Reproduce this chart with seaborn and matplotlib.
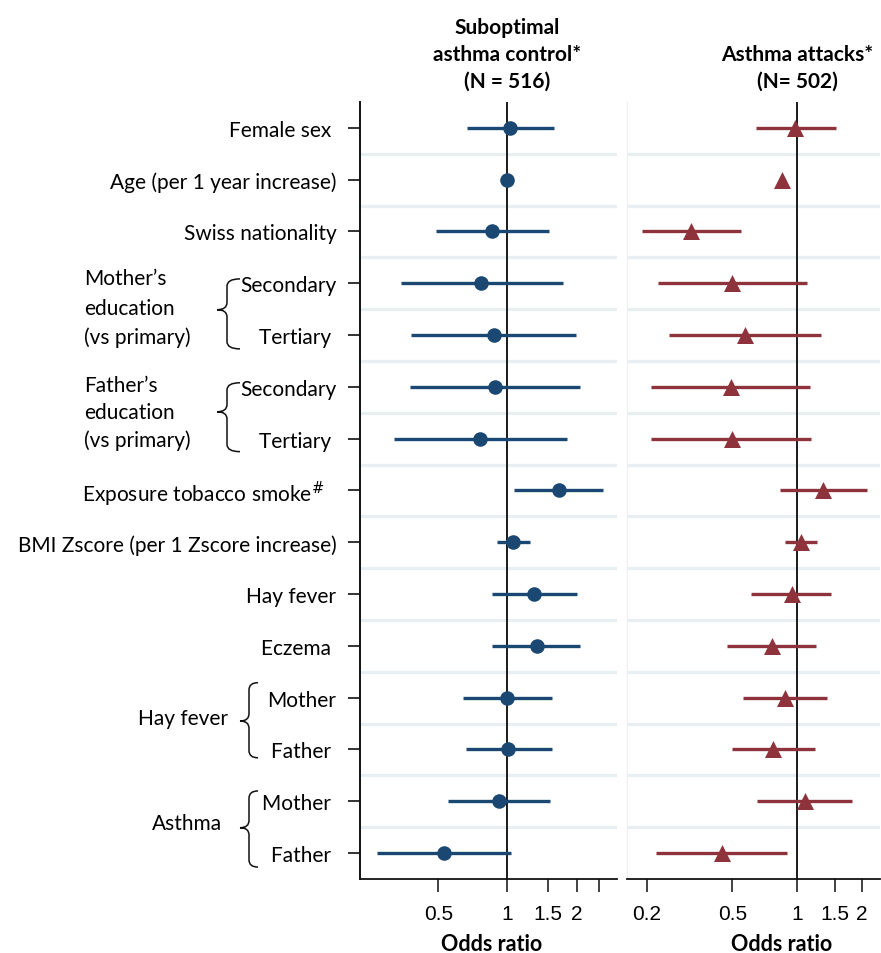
import matplotlib
matplotlib.use("Agg")
import matplotlib.pyplot as plt
import matplotlib.transforms as mtransforms
from matplotlib.path import Path
from matplotlib.patches import PathPatch
from matplotlib.ticker import NullLocator
import pandas as pd
import seaborn as sns

# row labels (top to bottom)
rows = ["Female sex ", "Age (per 1 year increase)", "Swiss nationality", "Secondary", "Tertiary ",
        "Secondary", "Tertiary ", "Exposure tobacco smoke$^{\\#}$   ",
        "BMI Zscore (per 1 Zscore increase)", "Hay fever", "Eczema ",
        "Mother", "Father ", "Mother ", "Father "]

# suboptimal asthma control: odds ratio + 95% CI
control_or = [1.03, 1.00, 0.86, 0.77, 0.87, 0.88, 0.76, 1.67, 1.06, 1.31, 1.34, 1.00, 1.01, 0.92, 0.53]
control_lo = [0.67, 0.97, 0.49, 0.345, 0.38, 0.375, 0.32, 1.07, 0.905, 0.86, 0.86, 0.64, 0.66, 0.55, 0.27]
control_hi = [1.59, 1.03, 1.51, 1.74, 1.98, 2.08, 1.81, 2.62, 1.26, 2.00, 2.08, 1.56, 1.56, 1.54, 1.04]

# asthma attacks: odds ratio + 95% CI
attack_or = [0.98, 0.85, 0.32, 0.50, 0.57, 0.49, 0.495, 1.32, 1.04, 0.94, 0.76, 0.88, 0.77, 1.08, 0.445]
attack_lo = [0.64, 0.83, 0.19, 0.225, 0.253, 0.21, 0.21, 0.83, 0.88, 0.61, 0.47, 0.56, 0.495, 0.65, 0.22]
attack_hi = [1.52, 0.87, 0.55, 1.11, 1.29, 1.15, 1.16, 2.11, 1.24, 1.44, 1.22, 1.38, 1.21, 1.80, 0.90]

left_ticks = [0.5, 1, 1.5, 2, 2.5]
left_ticklabels = ["0.5", "1", "1.5", "2", ""]
right_ticks = [0.2, 0.5, 1, 1.5, 2]
right_ticklabels = ["0.2", "0.5", "1", "1.5", "2"]

BLUE = "#1b4872"
RED = "#8e333c"
GRID = "#e8eff3"

sns.set_style("white")
plt.rcParams["font.family"] = ["Lato", "DejaVu Sans"]
plt.rcParams["text.color"] = "black"
plt.rcParams["xtick.color"] = "black"
plt.rcParams["ytick.color"] = "black"

df = pd.DataFrame({"row": range(len(rows)),
                   "c_or": control_or, "c_lo": control_lo, "c_hi": control_hi,
                   "a_or": attack_or, "a_lo": attack_lo, "a_hi": attack_hi})

W, H = 881, 954
fig = plt.figure(figsize=(W / 100, H / 100), dpi=100)
bot = 1 - 880 / H
hgt = 777 / H
ax1 = fig.add_axes([360 / W, bot, 257 / W, hgt])
ax2 = fig.add_axes([627 / W, bot, 253 / W, hgt])

FS = 15


def panel(ax, col, color, marker, size, xlim, ticks, ticklabels):
    ax.set_xscale("log")
    for k in range(len(rows) - 1):
        ax.axhline(k + 0.5, color=GRID, lw=2.3, zorder=0)
    ax.axvline(1, color="#1a1a1a", lw=1.4, zorder=1)
    ax.hlines(df["row"], df[col + "_lo"], df[col + "_hi"], color=color, lw=2.4, zorder=2)
    sns.scatterplot(data=df, x=col + "_or", y="row", ax=ax, marker=marker, s=size,
                    color=color, edgecolor=color, linewidth=0, zorder=3, legend=False)
    ax.set_xlim(*xlim)
    ax.set_ylim(len(rows) - 0.5, -0.5)
    ax.set_xticks(ticks)
    ax.set_xticklabels(ticklabels, family=["Liberation Sans"], fontsize=15, color="black")
    ax.xaxis.set_minor_locator(NullLocator())
    ax.tick_params(axis="x", length=9, width=1.2, pad=9, color="#222222", bottom=True)
    ax.set_xlabel("")
    ax.set_ylabel("")
    for s in ["top", "right"]:
        ax.spines[s].set_visible(False)
    ax.spines["bottom"].set_color("#111111")
    ax.spines["bottom"].set_linewidth(1.3)


panel(ax1, "c", BLUE, "o", 110, (0.228, 3.0), left_ticks, left_ticklabels)
panel(ax2, "a", RED, "^", 150, (0.162, 2.42), right_ticks, right_ticklabels)

ax1.set_yticks(range(len(rows)))
ax1.set_yticklabels(rows, fontsize=FS, color="black")
ax1.tick_params(axis="y", length=9, width=1.2, pad=8, color="#111111", left=True)
ax1.spines["left"].set_color("#111111")
ax1.spines["left"].set_linewidth(1.4)

ax2.set_yticks([])
ax2.spines["left"].set_color("#eeeeee")

# panel titles
ax1.text(1.0, 1.014, "Suboptimal\nasthma control*\n(N = 516)", transform=ax1.get_xaxis_transform(),
         ha="center", va="bottom", fontsize=15, fontweight="bold", linespacing=1.45)
ax2.text(1.0, 1.014, "Asthma attacks*\n(N= 502)", transform=ax2.get_xaxis_transform(),
         ha="center", va="bottom", fontsize=15, fontweight="bold", linespacing=1.45)

fig.text(492 / W, 1 - 945 / H, "Odds ratio", ha="center", va="center", fontsize=15.5, fontweight="bold")
fig.text(782 / W, 1 - 945 / H, "Odds ratio", ha="center", va="center", fontsize=15.5, fontweight="bold")

# group labels and braces (x in figure pixels, y in data rows)
trans = mtransforms.blended_transform_factory(fig.transFigure, ax1.transData)


def px(x):
    return x / W


def brace(y0, y1, ym, xv, xtip, xhook, d=0.14):
    verts = [(px(xhook), y0), (px(xv), y0), (px(xv), y0 + d),
             (px(xv), ym - d),
             (px(xv), ym), (px(xtip), ym),
             (px(xv), ym), (px(xv), ym + d),
             (px(xv), y1 - d),
             (px(xv), y1), (px(xhook), y1)]
    codes = [Path.MOVETO, Path.CURVE3, Path.CURVE3,
             Path.LINETO,
             Path.CURVE3, Path.CURVE3,
             Path.CURVE3, Path.CURVE3,
             Path.LINETO,
             Path.CURVE3, Path.CURVE3]
    fig.add_artist(PathPatch(Path(verts, codes), transform=trans, fill=False,
                             lw=1.1, edgecolor="#111111", clip_on=False))


for lines, ys in [(["Mother\u2019s", "education", "(vs primary)"], [2.90, 3.475, 4.035]),
                  (["Father\u2019s", "education", "(vs primary)"], [4.96, 5.48, 6.02])]:
    for t, y in zip(lines, ys):
        fig.text(px(84), y, t, transform=trans, ha="left", va="center", fontsize=FS)

brace(2.915, 4.266, 3.51, 227, 217, 240)
brace(4.92, 6.25, 5.48, 227, 217, 240)
brace(10.71, 12.16, 11.45, 249, 240, 258)
brace(12.80, 14.27, 13.51, 249, 240, 258)

fig.text(px(228), 11.39, "Hay fever", transform=trans, ha="right", va="center", fontsize=FS)
fig.text(px(222), 13.42, "Asthma", transform=trans, ha="right", va="center", fontsize=FS)

fig.savefig("out.png", dpi=100)
